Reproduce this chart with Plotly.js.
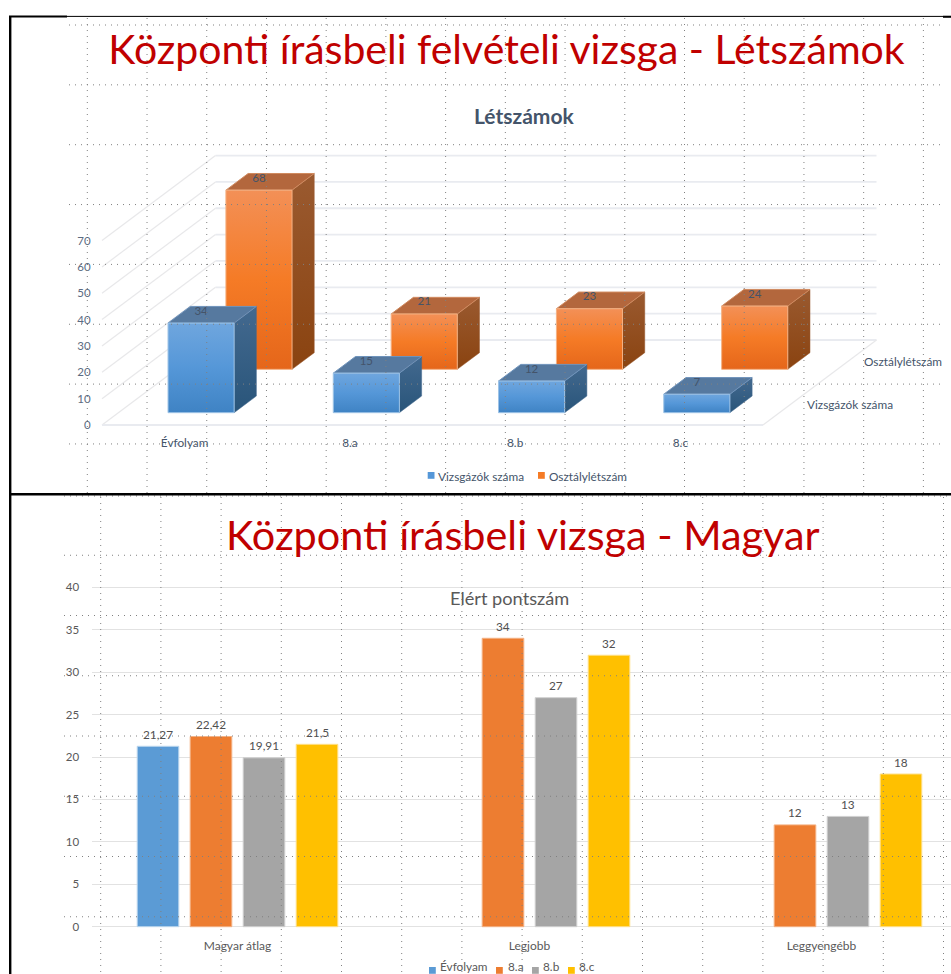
<!DOCTYPE html>
<html>
<head>
<meta charset="utf-8">
<script src="https://cdn.plot.ly/plotly-3.0.1.min.js"></script>
<style>html,body{margin:0;padding:0;background:#fff}#chart{width:951px;height:974px}#chart text{font-variant-ligatures:none}</style>
</head>
<body>
<div id="chart"></div>
<script>
// ---------- data ----------
const classes = ['Évfolyam', '8.a', '8.b', '8.c'];
const examTakers = [34, 15, 12, 7];
const classSize = [68, 21, 23, 24];
const headcountTicks = [0, 10, 20, 30, 40, 50, 60, 70];
const headcountSeries = ['Vizsgázók száma', 'Osztálylétszám'];

const scoreCategories = ['Magyar átlag', 'Legjobb', 'Leggyengébb'];
const scoreSeries = ['Évfolyam', '8.a', '8.b', '8.c'];
const scoreEvfolyam = [21.27, null, null];
const score8a = [22.42, 34, 12];
const score8b = [19.91, 27, 13];
const score8c = [21.5, 32, 18];
const scoreTicks = [0, 5, 10, 15, 20, 25, 30, 35, 40];

// ---------- page geometry ----------
const W = 951, H = 974;
const fx = px => px / W;
const fy = py => 1 - py / H;
const FONT = 'Lato, Carlito, Calibri, sans-serif';

// top panel scales (pixels per data unit)
const unitX = 165.25, unitY = 2.635, floorLeft = 102, floorY = 425;
const DX = 113.5 / unitX, DY = 85 / unitY;       // full floor depth in data units
const halfBar = 0.2;

const traces = [];
const wallRight = classes.length - 0.5;

// floor and wall lines
headcountTicks.forEach(v => {
  const major = { color: '#e9ebf0', width: 1.8 };
  traces.push({ type: 'scatter', mode: 'lines', x: [-0.5 + DX, wallRight + DX], y: [v + DY, v + DY],
    line: major, hoverinfo: 'skip', showlegend: false, xaxis: 'x', yaxis: 'y' });
  traces.push({ type: 'scatter', mode: 'lines', x: [-0.5, -0.5 + DX], y: [v, v + DY],
    line: { color: '#e8e8ea', width: 1.2 }, hoverinfo: 'skip', showlegend: false, xaxis: 'x', yaxis: 'y' });
});
traces.push({ type: 'scatter', mode: 'lines', x: [-0.5, wallRight], y: [0, 0],
  line: { color: '#e9ebf0', width: 2 }, hoverinfo: 'skip', showlegend: false, xaxis: 'x', yaxis: 'y' });
traces.push({ type: 'scatter', mode: 'lines', x: [wallRight, wallRight + DX], y: [0, DY],
  line: { color: '#e8e8ea', width: 1.2 }, hoverinfo: 'skip', showlegend: false, xaxis: 'x', yaxis: 'y' });

function addBoxes(name, values, d0, d1, c) {
  values.forEach((v, i) => {
    const xf0 = i - halfBar + d0 * DX, xf1 = i + halfBar + d0 * DX;
    const xb0 = i - halfBar + d1 * DX, xb1 = i + halfBar + d1 * DX;
    const yf = d0 * DY, yb = d1 * DY;
    const common = { type: 'scatter', mode: 'lines', fill: 'toself', name: name, hoverinfo: 'skip',
      showlegend: false, xaxis: 'x', yaxis: 'y', line: { color: c.edge, width: 1 } };
    // side
    traces.push(Object.assign({}, common, {
      x: [xf1, xb1, xb1, xf1, xf1], y: [yf, yb, yb + v, yf + v, yf],
      fillgradient: { type: 'vertical', colorscale: [[0, c.sideBottom], [1, c.sideTop]] },
      line: { color: c.sideTop, width: 0.5 } }));
    // top
    traces.push(Object.assign({}, common, {
      x: [xf0, xf1, xb1, xb0, xf0], y: [yf + v, yf + v, yb + v, yb + v, yf + v],
      fillcolor: c.top, line: { color: c.topEdge, width: 1 } }));
    // front
    traces.push(Object.assign({}, common, {
      x: [xf0, xf1, xf1, xf0, xf0], y: [yf, yf, yf + v, yf + v, yf],
      fillgradient: { type: 'vertical', colorscale: c.front } }));
  });
  // data labels on the top faces
  traces.push({ type: 'scatter', mode: 'text', name: name, showlegend: false, hoverinfo: 'skip',
    x: values.map((v, i) => i + d0 * DX),
    y: values.map(v => v + d1 * DY - 2),
    text: values.map(String), textposition: 'middle center',
    textfont: { family: FONT, size: 11.5, color: '#44546a' }, xaxis: 'x', yaxis: 'y' });
}

addBoxes(headcountSeries[1], classSize, 0.655, 0.851, {
  edge: '#f4b183', top: '#b3673d', topEdge: '#d08a5f', sideTop: '#9a5a30', sideBottom: '#8a4310',
  front: [[0, '#e5661a'], [0.5, '#f57b26'], [1, '#f39057']]
});
addBoxes(headcountSeries[0], examTakers, 0.145, 0.341, {
  edge: '#9dc3e6', top: '#56799f', topEdge: '#6f93bb', sideTop: '#43698f', sideBottom: '#29557a',
  front: [[0, '#3f83c4'], [0.5, '#5597d8'], [1, '#6fa6de']]
});

// bottom panel bars
const scoreValues = [scoreEvfolyam, score8a, score8b, score8c];
const scoreColors = ['#5b9bd5', '#ed7d31', '#a5a5a5', '#ffc000'];
const scoreEdges = ['#bdd7ee', '#f4b183', '#d0d0d0', '#ffe08a'];
scoreValues.forEach((vals, k) => {
  traces.push({ type: 'bar', name: scoreSeries[k], x: scoreCategories, y: vals,
    marker: { color: scoreColors[k], line: { color: scoreEdges[k], width: 1 } },
    hovertemplate: '%{x}: %{y}<extra>' + scoreSeries[k] + '</extra>',
    showlegend: false, xaxis: 'x2', yaxis: 'y2' });
});

// ---------- dotted drawing-grid and frame ----------
const shapes = [];
const dotted = { color: '#808080', width: 1, dash: '1px,5px' };
function seg(x0, y0, x1, y1, line) {
  shapes.push({ type: 'line', xref: 'paper', yref: 'paper', layer: 'above',
    x0: fx(x0), x1: fx(x1), y0: fy(y0), y1: fy(y1), line: line });
}
for (let i = 0; i < 15; i++) { const x = 87.3 + i * 59.72; seg(x, 18, x, 495, dotted); }
for (let i = 0; i < 8; i++) { const y = 25 + i * 59.85; seg(69, y, 943, y, dotted); }
seg(64, 496, 951, 496, dotted);
for (let i = 0; i < 15; i++) { const x = 100.7 + i * 60.2; seg(x, 497, x, 974, dotted); }
for (let i = 1; i < 8; i++) { const y = 495 + i * 60.25; seg(64, y, 951, y, dotted); }

const black = w => ({ color: '#000', width: w });
seg(10.2, 16, 10.2, 974, black(2.4));
seg(9, 16.5, 67, 16.5, black(2));
seg(67, 16.4, 951, 16.4, black(1));
seg(943, 16.8, 951, 16.8, black(2));
seg(9, 494.3, 951, 494.3, black(2.4));

// ---------- legends and other texts ----------
const annotations = [];
function note(text, px, py, font, xanchor) {
  annotations.push({ text: text, xref: 'paper', yref: 'paper', x: fx(px), y: fy(py), showarrow: false,
    xanchor: xanchor || 'center', yanchor: 'middle', font: Object.assign({ family: FONT }, font), borderpad: 0 });
}
function swatch(x, y, s, color) {
  shapes.push({ type: 'rect', xref: 'paper', yref: 'paper', layer: 'below',
    x0: fx(x), x1: fx(x + s), y0: fy(y), y1: fy(y + s), fillcolor: color, line: { width: 0 } });
}
const small = { size: 11.8, color: '#44546a' };
note('Létszámok', 524, 116, { size: 21, color: '#44546a', weight: 700 });
note('Központi írásbeli vizsga - Magyar', 523, 534, { size: 41.4, color: '#c00000' });
note('Elért pontszám', 509, 598, { size: 18.2, color: '#595959' });
note(headcountSeries[0], 806, 405, small, 'left');
note(headcountSeries[1], 862.7, 361.7, small, 'left');

swatch(427.7, 472, 6.8, '#5597d8');
note(headcountSeries[0], 437, 476, small, 'left');
swatch(538, 472, 6.8, '#f57b26');
note(headcountSeries[1], 548, 476, small, 'left');

[[429, 439], [496, 507], [532, 542], [568, 578]].forEach((p, k) => {
  swatch(p[0], 967, 6.8, scoreColors[k]);
  note(scoreSeries[k], p[1], 966.5, { size: 11.8, color: '#595959' }, 'left');
});

// bar value labels (decimal comma), placed from the values through the axes
const groupPitch = 53;
scoreValues.forEach((vals, k) => vals.forEach((v, c) => {
  if (v === null) return;
  annotations.push({ text: String(v).replace('.', ','), xref: 'x2', yref: 'y2', x: scoreCategories[c], y: v,
    xshift: (k - 1.5) * groupPitch, yshift: 12, showarrow: false, xanchor: 'center', yanchor: 'middle',
    font: { family: FONT, size: 11.8, color: '#505050' }, borderpad: 0 });
}));

// ---------- layout ----------
const layout = {
  width: W, height: H, margin: { l: 0, r: 0, t: 0, b: 0 },
  paper_bgcolor: '#fff', plot_bgcolor: 'rgba(0,0,0,0)', showlegend: false,
  font: { family: FONT },
  title: { text: 'Központi írásbeli felvételi vizsga - Létszámok', x: fx(506.5), xanchor: 'center',
    y: fy(50), yanchor: 'middle', font: { family: FONT, size: 41, color: '#c00000' } },
  barmode: 'group', bargap: 1 - 212 / 292, bargroupgap: 1 - 41.6 / 53,
  xaxis: { domain: [0, 1], range: [-0.5 - floorLeft / unitX, -0.5 + (W - floorLeft) / unitX],
    anchor: 'free', position: fy(floorY), tickmode: 'array', tickvals: classes.map((c, i) => i), ticktext: classes,
    showgrid: false, zeroline: false, showline: false, ticks: 'outside', ticklen: 7, tickcolor: 'rgba(0,0,0,0)',
    tickfont: { family: FONT, size: 11.8, color: '#44546a' } },
  yaxis: { domain: [fy(495), fy(16)], range: [(floorY - 495) / unitY, (floorY - 16) / unitY],
    anchor: 'free', position: fx(floorLeft), tickmode: 'array', tickvals: headcountTicks,
    showgrid: false, zeroline: false, showline: false, ticks: 'outside', ticklen: 9, tickcolor: 'rgba(0,0,0,0)',
    tickfont: { family: FONT, size: 11.5, color: '#5b6b82' } },
  xaxis2: { domain: [fx(91.5), 1], type: 'category', range: [-0.5, -0.5 + (W - 91.5) / 292],
    anchor: 'free', position: fy(926.7), showgrid: false, zeroline: false, showline: false,
    ticks: 'outside', ticklen: 8, tickcolor: 'rgba(0,0,0,0)',
    tickfont: { family: FONT, size: 12, color: '#595959' } },
  yaxis2: { domain: [0, fy(497)], range: [(926.7 - 974) / 8.483, (926.7 - 497) / 8.483], anchor: 'x2',
    tickmode: 'array', tickvals: scoreTicks, showgrid: true, gridcolor: '#e2e2e2', gridwidth: 1.4,
    zeroline: false, showline: false, ticks: 'outside', ticklen: 9, tickcolor: 'rgba(0,0,0,0)',
    tickfont: { family: FONT, size: 11.5, color: '#595959' } },
  shapes: shapes, annotations: annotations
};

Plotly.newPlot('chart', traces, layout, { displayModeBar: false, responsive: false });
</script>
</body>
</html>
